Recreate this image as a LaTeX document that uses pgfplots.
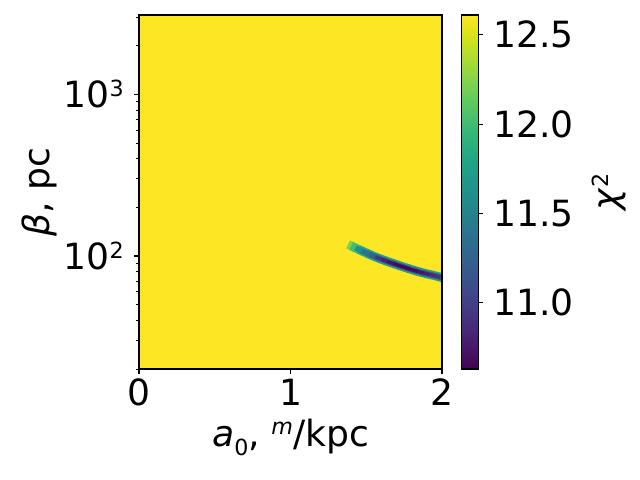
\documentclass[border=0pt]{standalone}
\usepackage{fontspec}
\setmainfont{DejaVu Sans}
\usepackage{pgfplots}
\pgfplotsset{compat=1.18}
\newcommand\fs{\fontsize{26bp}{30bp}\selectfont}
\newcommand\fss{\fontsize{16bp}{16bp}\selectfont}
\begin{document}
\begin{tikzpicture}
\path[use as bounding box] (-100.08bp,-79.92bp) rectangle (360.72bp,265.68bp);
\begin{axis}[
  at={(0,0)}, anchor=south west,
  scale only axis, width=218.16bp, height=254.88bp,
  xmin=0, xmax=2, ymode=log, ymin=20, ymax=3100,
  xtick={0,1,2},
  ytick={100,1000},
  yticklabels={10\raisebox{0.3em}{\fss 2},10\raisebox{0.3em}{\fss 3}},
  minor ytick={20,30,40,50,60,70,80,90,200,300,400,500,600,700,800,900,2000,3000},
  tick align=outside, major tick length=3.5bp, minor tick length=2bp,
  every major tick/.style={line width=0.8bp, black},
  every minor tick/.style={line width=0.6bp, black},
  axis line style={line width=0.8bp},
  xtick pos=left, ytick pos=left,
  tick label style={font=\fs},
  yticklabel style={xshift=-4bp},
  xlabel={\textit{a}\raisebox{-0.25em}{\fss 0}, \raisebox{0.35em}{\fss\textit{m}}/kpc},
  ylabel={\textit{β}, pc},
  every axis x label/.style={at={(axis description cs:0.5,-0.22)}, anchor=base, font=\fs},
  every axis y label/.style={at={(axis description cs:-0.33,0.5)}, anchor=center, rotate=90, font=\fs},
  colormap/viridis,
  point meta min=10.63, point meta max=12.61,
  colorbar,
  colorbar style={
    width=12.24bp,
    colorbar shift/.style={xshift=2.16bp},
    ytick={11,11.5,12,12.5},
    ytick pos=right, yticklabel pos=right,
    tick align=outside, major tick length=3.5bp,
    every major tick/.style={line width=0.8bp, black},
    yticklabel style={font=\fs, xshift=4bp},
    axis line style={line width=0.8bp},
    ylabel={\textit{χ}\raisebox{0.3em}{\fss 2}},
    every axis y label/.style={at={(axis description cs:8.7,0.5)}, anchor=center, rotate=90, font=\fs},
    /pgf/number format/fixed,
    /pgf/number format/fixed zerofill,
    /pgf/number format/precision=1,
    /pgf/number format/assume math mode=true,
  },
  /pgf/number format/assume math mode=true,
  axis on top,
]
% background field (chi^2 at its maximum everywhere off the valley)
\addplot[surf, shader=flat, mesh/cols=2, point meta=explicit] table[meta=c] {
x y c
0 20 12.61
2 20 12.61
0 3100 12.61
2 3100 12.61
};
% outer edge of the valley
\addplot[mesh, point meta=explicit, line width=6.4bp, line join=round] table[meta=c] {
x y c
1.38 118 12.35
1.40 115.6 12.1
1.45 109.9 11.9
1.50 104.5 11.8
1.55 99.6 11.75
1.60 95.5 11.75
1.65 91.8 11.75
1.70 88.5 11.75
1.75 85.3 11.75
1.80 82.4 11.75
1.85 79.8 11.75
1.90 77.6 11.75
1.95 75.7 11.75
2.00 73.5 11.75
};
% middle of the valley
\addplot[mesh, point meta=explicit, line width=4bp, line join=round] table[meta=c] {
x y c
1.43 112 11.75
1.47 107.6 11.5
1.52 102.5 11.3
1.56 98.8 11.2
1.60 95.5 11.15
1.65 91.8 11.1
1.70 88.5 11.1
1.75 85.3 11.1
1.80 82.4 11.1
1.85 79.8 11.1
1.90 77.6 11.1
1.95 75.7 11.15
2.00 73.5 11.2
};
% floor of the valley
\addplot[mesh, point meta=explicit, line width=2.4bp, line join=round] table[meta=c] {
x y c
1.56 98.8 11.0
1.60 95.5 10.85
1.64 92.5 10.75
1.68 89.8 10.68
1.72 87.1 10.65
1.76 84.7 10.65
1.80 82.4 10.66
1.84 80.3 10.7
1.88 78.4 10.75
1.92 76.8 10.82
1.96 75.3 10.9
1.99 73.9 10.95
};
\end{axis}
\end{tikzpicture}
\end{document}
